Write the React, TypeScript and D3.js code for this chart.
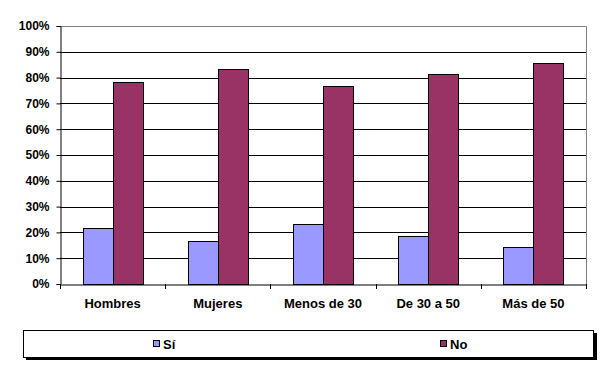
import React, { useRef, useEffect } from 'react';
import * as d3 from 'd3';

const categories = ['Hombres', 'Mujeres', 'Menos de 30', 'De 30 a 50', 'Más de 50'];
const siValues = [21.6, 16.6, 23.2, 18.7, 14.4];
const noValues = [78.4, 83.4, 76.8, 81.3, 85.6];
const seriesNames = ['Sí', 'No'];
const seriesColors = ['#9999FF', '#993366'];
const yTicks = [0, 10, 20, 30, 40, 50, 60, 70, 80, 90, 100];

const App = () => {
  const svgRef = useRef<SVGSVGElement | null>(null);

  useEffect(() => {
    if (!svgRef.current) return;
    const svg = d3.select(svgRef.current);
    svg.selectAll('*').remove();

    const left = 60, right = 586, top = 26, bottom = 284;
    const font = '"Liberation Sans", Arial, sans-serif';

    const x = d3.scaleBand<string>().domain(categories).range([left, right]);
    const xs = d3.scaleBand<string>().domain(seriesNames).range([0, 60]);
    const y = d3.scaleLinear().domain([0, 100]).range([bottom, top]);

    svg.append('rect').attr('width', 600).attr('height', 374).attr('fill', '#fff');

    // gridlines
    svg.append('g')
      .selectAll('line')
      .data(yTicks.filter(t => t > 0 && t < 100))
      .enter()
      .append('line')
      .attr('x1', left).attr('x2', right)
      .attr('y1', d => Math.round(y(d)) + 0.5).attr('y2', d => Math.round(y(d)) + 0.5)
      .attr('stroke', '#000').attr('stroke-width', 1);

    // plot border top/right (gray)
    svg.append('path')
      .attr('d', `M${left},${top + 0.5}H${right + 0.5}V${bottom}`)
      .attr('fill', 'none').attr('stroke', '#808080');

    // bars
    const data = categories.map((c, i) => ({ c, vals: [siValues[i], noValues[i]] }));
    const groups = svg.append('g').selectAll('g').data(data).enter().append('g')
      .attr('transform', d => `translate(${Math.round(x(d.c)! + x.bandwidth() / 2 - 30)},0)`);
    groups.selectAll('rect')
      .data(d => d.vals.map((v, j) => ({ v, s: seriesNames[j], j })))
      .enter()
      .append('rect')
      .attr('x', d => xs(d.s)! + 0.5)
      .attr('y', d => Math.round(y(d.v)) + 0.5)
      .attr('width', xs.bandwidth())
      .attr('height', d => bottom - Math.round(y(d.v)))
      .attr('fill', d => seriesColors[d.j])
      .attr('stroke', '#000').attr('stroke-width', 1);

    // y axis
    const yAxis = svg.append('g')
      .attr('transform', `translate(${left + 0.5},0)`)
      .call(d3.axisLeft(y).tickValues(yTicks).tickSize(4).tickFormat(d => `${d}%`));
    yAxis.select('.domain').attr('stroke', '#000');
    yAxis.selectAll('.tick line').attr('stroke', '#000');
    yAxis.selectAll('text')
      .attr('font-family', font).attr('font-size', 12).attr('font-weight', 'bold')
      .attr('fill', '#000').attr('x', -11);

    // x axis
    const xAxis = svg.append('g')
      .attr('transform', `translate(0,${bottom + 0.5})`)
      .call(d3.axisBottom(x).tickSize(0).tickSizeOuter(0));
    xAxis.select('.domain').attr('stroke', '#000');
    xAxis.selectAll('text')
      .attr('font-family', font).attr('font-size', 13).attr('font-weight', 'bold')
      .attr('fill', '#000').attr('y', 14);
    const bounds = [...categories.map(c => x(c)!), right];
    svg.append('g').selectAll('line').data(bounds).enter().append('line')
      .attr('x1', d => Math.round(d) + 0.5).attr('x2', d => Math.round(d) + 0.5)
      .attr('y1', bottom).attr('y2', bottom + 5)
      .attr('stroke', '#000');

    // legend
    const lg = svg.append('g');
    lg.append('rect').attr('x', 26).attr('y', 333).attr('width', 571).attr('height', 27).attr('fill', '#000');
    lg.append('rect').attr('x', 23.5).attr('y', 330.5).attr('width', 570).attr('height', 27)
      .attr('fill', '#fff').attr('stroke', '#000');
    const legendX = [153, 440];
    seriesNames.forEach((s, i) => {
      lg.append('rect').attr('x', legendX[i] + 0.5).attr('y', 340.5).attr('width', 6).attr('height', 6)
        .attr('fill', seriesColors[i]).attr('stroke', '#000');
      lg.append('text').attr('x', legendX[i] + 10).attr('y', 344).attr('dy', '0.35em')
        .attr('font-family', font).attr('font-size', 13).attr('font-weight', 'bold')
        .text(s);
    });
  }, []);

  return <svg ref={svgRef} width={600} height={374} style={{ display: 'block', position: 'absolute', left: 0, top: 0 }} />;
};

export default App;
